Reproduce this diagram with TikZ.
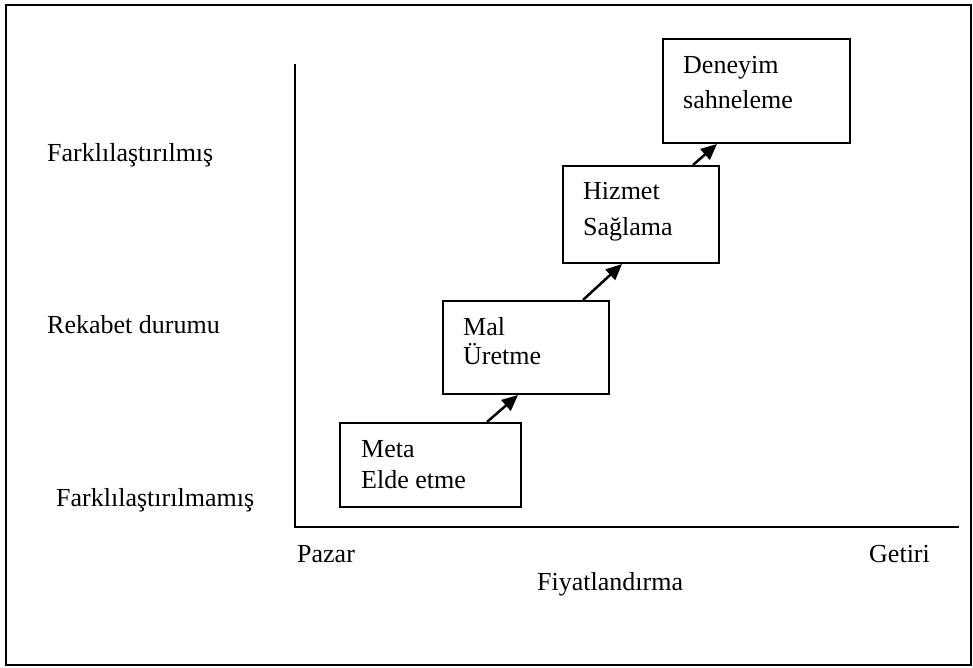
\documentclass[tikz,border=0pt]{standalone}
\usepackage{fontspec}
\setmainfont{Liberation Serif}
\usetikzlibrary{arrows.meta,calc}
\begin{document}
\begin{tikzpicture}[x=1pt,y=-1pt,
  every node/.style={font=\fontsize{26}{30}\selectfont, inner sep=0pt},
  stage/.style={draw, line width=2pt, anchor=north west},
  txt/.style={anchor=base west},
  axisline/.style={line width=2pt},
  rise/.style={line width=2.5pt, -{Triangle[length=16pt,width=14pt]}}
]
\useasboundingbox (0,0) rectangle (973,668);
% outer frame
\draw[line width=1.5pt] (6,5) rectangle (971,665);

% axes
\coordinate (top) at (295,64);
\coordinate (origin) at (295,527);
\coordinate (xend) at (959,527);
\draw[axisline] (top) -- (origin) -- (xend);

% axis labels
\node[txt] (ydiff) at (47,162) {Farklılaştırılmış};
\node[txt] (ycomp) at (47,333) {Rekabet durumu};
\node[txt] (yundiff) at (56,506) {Farklılaştırılmamış};
\node[txt] (xmarket) at (297,562) {Pazar};
\node[txt] (xprem) at (869,562) {Getiri};
\node[txt] (xprice) at (537,590) {Fiyatlandırma};

% stages
\node[stage, minimum width=181pt, minimum height=84pt] (meta) at (339,422) {};
\node[stage, minimum width=166pt, minimum height=93pt] (mal) at (442,300) {};
\node[stage, minimum width=156pt, minimum height=97pt] (hizmet) at (562,165) {};
\node[stage, minimum width=187pt, minimum height=104pt] (deneyim) at (662,38) {};

\node[txt] (t1a) at (361,457) {Meta};
\node[txt] (t1b) at (361,488) {Elde etme};
\node[txt] (t2a) at (463,335) {Mal};
\node[txt] (t2b) at (463,364) {Üretme};
\node[txt] (t3a) at (583,200) {Hizmet};
\node[txt] (t3b) at (583,235) {Sağlama};
\node[txt] (t4a) at (683,74) {Deneyim};
\node[txt] (t4b) at (683,109) {sahneleme};

% progression arrows
\draw[rise] ($(meta.north west)+(148,0)$) -- ($(mal.south west)+(76,0)$);
\draw[rise] ($(mal.north west)+(141,0)$) -- ($(hizmet.south west)+(60,0)$);
\draw[rise] ($(hizmet.north west)+(131,0)$) -- ($(deneyim.south west)+(55,0)$);
\end{tikzpicture}
\end{document}
